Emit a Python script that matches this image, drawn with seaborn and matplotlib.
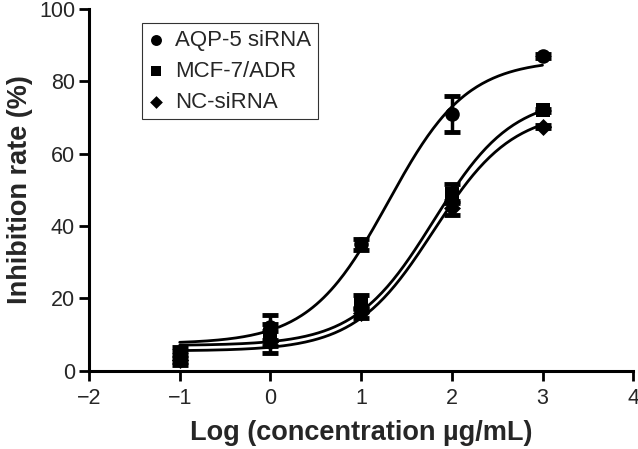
import matplotlib

matplotlib.use("Agg")

import matplotlib.pyplot as plt
import numpy as np
import pandas as pd
import seaborn as sns


log_conc = [-1, 0, 1, 2, 3]
series_names = ["AQP-5 siRNA", "MCF-7/ADR", "NC-siRNA"]

aqp5_mean = [5.0, 12.0, 35.0, 71.0, 87.0]
aqp5_err = [1.5, 3.5, 1.5, 5.0, 0.5]
mcf7_mean = [4.0, 10.0, 19.0, 49.0, 72.0]
mcf7_err = [1.5, 3.0, 2.0, 2.5, 0.5]
nc_mean = [3.0, 8.0, 16.0, 45.0, 67.5]
nc_err = [1.5, 3.0, 1.5, 2.0, 0.5]

# fitted four-parameter logistic curves: bottom, top, logEC50, hill slope
aqp5_fit = [7.5, 86.0, 1.3, 1.0]
mcf7_fit = [7.0, 76.0, 1.8, 1.0]
nc_fit = [5.5, 72.0, 1.8, 1.0]

markers = ["o", "s", "D"]
marker_sizes = [110, 100, 75]


def logistic(x, bottom, top, logec50, hill):
    return bottom + (top - bottom) / (1 + 10 ** ((logec50 - x) * hill))


sns.set_theme(style="ticks")
plt.rcParams["font.family"] = ["Liberation Sans", "DejaVu Sans"]

points = pd.DataFrame(
    {
        "x": log_conc * 3,
        "y": aqp5_mean + mcf7_mean + nc_mean,
        "err": aqp5_err + mcf7_err + nc_err,
        "group": np.repeat(series_names, len(log_conc)),
    }
)

fits = [aqp5_fit, mcf7_fit, nc_fit]
xs = np.linspace(log_conc[0], log_conc[-1], 200)
curves = pd.DataFrame(
    {
        "x": np.tile(xs, 3),
        "y": np.concatenate([logistic(xs, *p) for p in fits]),
        "group": np.repeat(series_names, len(xs)),
    }
)

fig = plt.figure(figsize=(6.38, 4.49), dpi=100)
ax = fig.add_axes([0.1395, 0.174, 0.853, 0.806])

sns.lineplot(
    data=curves, x="x", y="y", units="group", estimator=None,
    color="black", linewidth=2.0, ax=ax, legend=False,
)

for name, marker, size in zip(series_names, markers, marker_sizes):
    sub = points[points["group"] == name]
    ax.errorbar(
        sub["x"], sub["y"], yerr=sub["err"], fmt="none", ecolor="black",
        elinewidth=2.5, capsize=6, capthick=3.5, zorder=3,
    )
    sns.scatterplot(
        data=sub, x="x", y="y", marker=marker, s=size, color="black",
        edgecolor="black", linewidth=0, ax=ax, label=name, zorder=4,
    )

ax.set_xlim(-2, 4)
ax.set_ylim(0, 100)
ax.set_xticks([-2, -1, 0, 1, 2, 3, 4])
ax.set_xticklabels(["\u22122", "\u22121", "0", "1", "2", "3", "4"])
ax.set_yticks([0, 20, 40, 60, 80, 100])
ax.set_xlabel("Log (concentration \u00b5g/mL)", fontsize=19.5, fontweight="bold", labelpad=8)
ax.set_ylabel("Inhibition rate (%)", fontsize=19.5, fontweight="bold", labelpad=4)
ax.tick_params(axis="both", labelsize=15.5, width=2, length=7, direction="out", color="black")
ax.tick_params(axis="x", pad=5)
ax.tick_params(axis="y", pad=3)
for side in ["left", "bottom"]:
    ax.spines[side].set_linewidth(2.2)
    ax.spines[side].set_color("black")
sns.despine(ax=ax)

leg = ax.legend(
    loc="upper left", bbox_to_anchor=(0.0974, 0.961), borderaxespad=0,
    fontsize=16, frameon=True, fancybox=False, edgecolor="black",
    handletextpad=0.5, borderpad=0.3, labelspacing=0.45, handlelength=0.7,
    markerscale=0.75,
)
leg.get_frame().set_linewidth(0.8)

fig.savefig("out.png", dpi=100)
